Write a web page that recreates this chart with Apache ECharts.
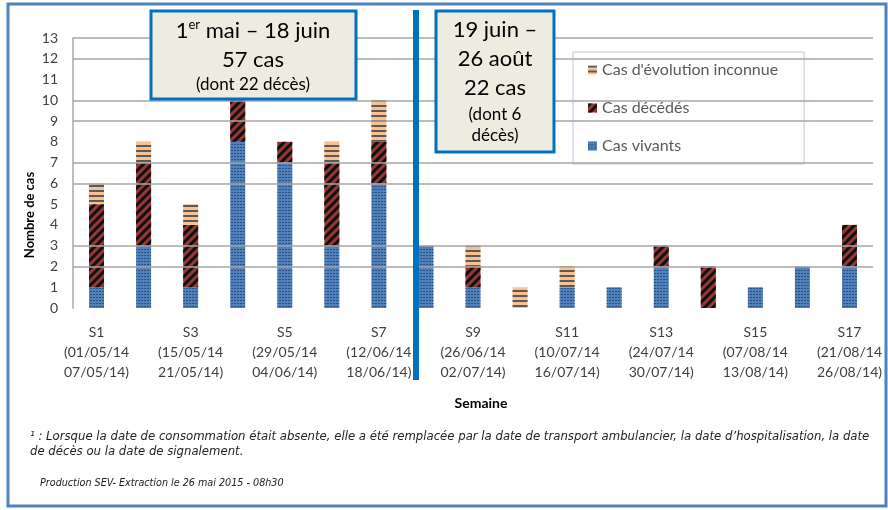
<!DOCTYPE html>
<html>
<head>
<meta charset="utf-8">
<script src="https://cdn.jsdelivr.net/npm/echarts@6/dist/echarts.min.js"></script>
<style>
html,body{margin:0;padding:0;background:#fff;}
#chart{width:888px;height:510px;}
</style>
</head>
<body>
<div id="chart"></div>
<script>
var weeks = ['S1','S2','S3','S4','S5','S6','S7','S8','S9','S10','S11','S12','S13','S14','S15','S16','S17'];
var startDates = ['01/05/14','08/05/14','15/05/14','22/05/14','29/05/14','05/06/14','12/06/14','19/06/14','26/06/14','03/07/14','10/07/14','17/07/14','24/07/14','31/07/14','07/08/14','14/08/14','21/08/14'];
var endDates = ['07/05/14','14/05/14','21/05/14','28/05/14','04/06/14','11/06/14','18/06/14','25/06/14','02/07/14','09/07/14','16/07/14','23/07/14','30/07/14','06/08/14','13/08/14','20/08/14','26/08/14'];
var vivants   = [1,3,1,8,7,3,6, 3,1,0,1,1,2,0,1,2,2];
var decedes   = [4,4,3,4,1,4,2, 0,1,0,0,0,1,2,0,0,2];
var inconnue  = [1,1,1,0,0,1,2, 0,1,1,1,0,0,0,0,0,0];
var gridValues = [13,12,10,9,7,6,3,2];
var seriesNames = ["Cas vivants","Cas décédés","Cas d'évolution inconnue"];

var labels = weeks.map(function(w,i){ return w + '\n(' + startDates[i] + '\n' + endDates[i] + ')'; });
function nz(arr){ return arr.map(function(v){ return v === 0 ? '-' : v; }); }

var chart = echarts.init(document.getElementById('chart'));
var font = 'Lato, "Open Sans", sans-serif';
var noteFont = '"Liberation Sans Narrow", "DejaVu Sans Condensed", sans-serif';

function txt(x, y, s, size, extra){
  var st = { text: s, fontFamily: font, fontSize: size, fill: '#000', align: 'center', verticalAlign: 'middle' };
  if (extra) { for (var k in extra) st[k] = extra[k]; }
  return { type: 'text', x: x, y: y, z: 101, style: st };
}

chart.setOption({
  animation: false,
  textStyle: { fontFamily: font },
  grid: { left: 73, right: 15, top: 38, bottom: 202, containLabel: false },
  legend: {
    data: [seriesNames[2], seriesNames[1], seriesNames[0]],
    orient: 'vertical',
    left: 573, top: 52,
    itemWidth: 9, itemHeight: 9, itemGap: 22,
    padding: [10, 26, 10, 15],
    backgroundColor: '#ffffff',
    borderColor: '#b8c8df', borderWidth: 1,
    textStyle: { color: '#595959', fontSize: 16, fontFamily: font },
    icon: 'rect'
  },
  xAxis: {
    type: 'category',
    data: labels,
    name: 'Semaine',
    nameLocation: 'middle',
    nameGap: 88,
    nameTextStyle: { fontWeight: 'bold', fontSize: 14, color: '#000', padding: [0, 0, 0, 16] },
    axisLine: { show: false },
    axisTick: { show: false },
    axisLabel: { interval: 1, color: '#404040', fontSize: 14, lineHeight: 20, margin: 14 }
  },
  yAxis: {
    type: 'value', min: 0, max: 13, interval: 1,
    axisLine: { show: true, lineStyle: { color: '#bfbfbf', width: 2 } },
    axisTick: { show: false },
    splitLine: { show: false },
    axisLabel: { color: '#404040', fontSize: 14, margin: 15 }
  },
  series: [
    {
      type: 'line', data: [], z: 1, silent: true,
      markLine: {
        silent: true, symbol: 'none', animation: false,
        label: { show: false },
        lineStyle: { color: '#a6a6a6', width: 1.5, type: 'solid' },
        data: gridValues.map(function(v){ return { yAxis: v }; })
      }
    },
    {
      name: seriesNames[0], type: 'bar', stack: 'c', barWidth: 15, z: 3,
      data: nz(vivants),
      itemStyle: {
        color: '#4f81bd',
        decal: { symbol: 'rect', symbolSize: 1, dashArrayX: [[2,1]], dashArrayY: [1,2], color: 'rgba(20,30,60,0.5)', rotation: 0 }
      }
    },
    {
      name: seriesNames[1], type: 'bar', stack: 'c', barWidth: 15, z: 3,
      data: nz(decedes),
      itemStyle: {
        color: '#953735',
        decal: { symbol: 'rect', symbolSize: 1, dashArrayX: [1,0], dashArrayY: [3,3], color: '#111111', rotation: -Math.PI/4 }
      }
    },
    {
      name: seriesNames[2], type: 'bar', stack: 'c', barWidth: 15, z: 3,
      data: nz(inconnue),
      itemStyle: {
        color: '#fac090',
        decal: { symbol: 'rect', symbolSize: 1, dashArrayX: [1,0], dashArrayY: [2,3], color: '#5a5a5a', rotation: 0 }
      }
    }
  ],
  graphic: [
    { type: 'rect', z: 0, shape: { x: 8, y: 4, width: 878, height: 502 }, style: { fill: 'none', stroke: '#4f81bd', lineWidth: 3 }, silent: true },
    { type: 'rect', z: 100, shape: { x: 413, y: 10, width: 6, height: 370 }, style: { fill: '#0070c0' } },
    { type: 'text', x: 30, y: 215, rotation: Math.PI/2, z: 100,
      style: { text: 'Nombre de cas', fontFamily: font, fontSize: 13, fontWeight: 'bold', fill: '#000', align: 'center', verticalAlign: 'middle' } },
    { type: 'rect', z: 100, shape: { x: 151, y: 11, width: 205, height: 88 }, style: { fill: '#eeece1', stroke: '#0070c0', lineWidth: 3 } },
    txt(253, 31, '1{sup|er} mai – 18 juin', 22, { rich: { sup: { fontSize: 13, fontFamily: font, fill: '#000', verticalAlign: 'top', padding: [0,0,12,0] } } }),
    txt(253, 60, '57 cas', 22),
    txt(253, 85, '(dont 22 décès)', 17),
    { type: 'rect', z: 100, shape: { x: 436, y: 11, width: 118, height: 141 }, style: { fill: '#eeece1', stroke: '#0070c0', lineWidth: 3 } },
    txt(495, 30, '19 juin –', 22),
    txt(495, 59, '26 août', 22),
    txt(495, 88, '22 cas', 22),
    txt(495, 115, '(dont 6', 17),
    txt(495, 136, 'décès)', 17),
    { type: 'text', x: 30, y: 437, z: 100, style: { text: '¹ : Lorsque la date de consommation était absente, elle a été remplacée par la date de transport ambulancier, la date d\u2019hospitalisation, la date', fontFamily: noteFont, fontStyle: 'italic', fontSize: 13, fill: '#222', verticalAlign: 'middle' } },
    { type: 'text', x: 30, y: 452, z: 100, style: { text: 'de décès ou la date de signalement.', fontFamily: noteFont, fontStyle: 'italic', fontSize: 13, fill: '#222', verticalAlign: 'middle' } },
    { type: 'text', x: 40, y: 483, z: 100, style: { text: 'Production SEV- Extraction le 26 mai 2015 - 08h30', fontFamily: noteFont, fontStyle: 'italic', fontSize: 10.7, fill: '#222', verticalAlign: 'middle' } }
  ]
});
</script>
</body>
</html>
